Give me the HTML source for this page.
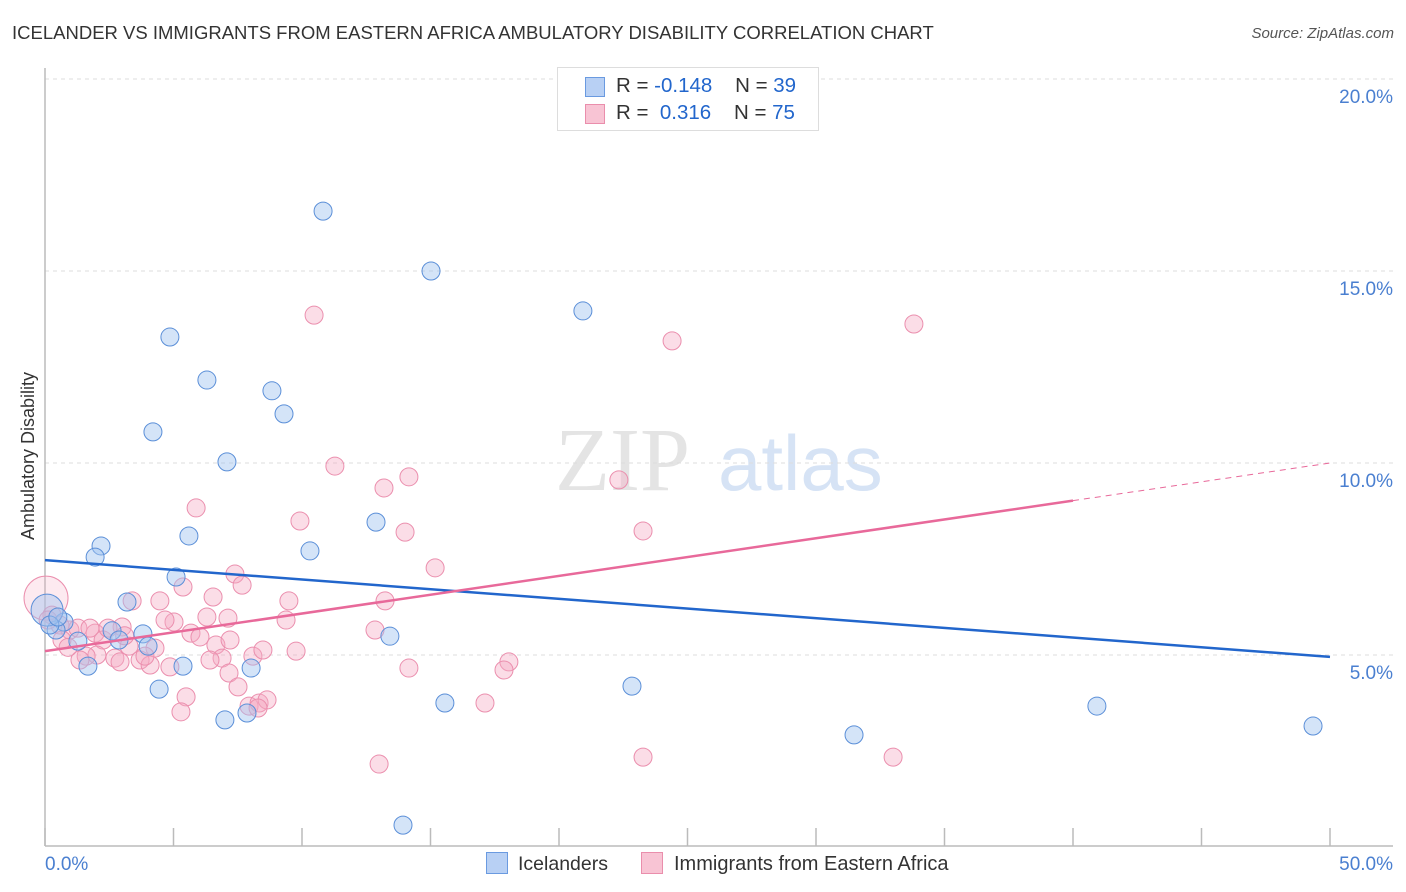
<!DOCTYPE html>
<html><head><meta charset="utf-8"><style>
body{margin:0;background:#fff;font-family:"Liberation Sans",sans-serif}
#wrap{position:relative;width:1406px;height:892px;overflow:hidden}
.t{position:absolute;white-space:nowrap}
</style></head><body>
<div id="wrap">
<div class="t" style="left:12px;top:22px;font-size:18.5px;color:#333">ICELANDER VS IMMIGRANTS FROM EASTERN AFRICA AMBULATORY DISABILITY CORRELATION CHART</div>
<div class="t" style="right:12px;top:25px;font-size:15px;color:#555;font-style:italic">Source: ZipAtlas.com</div>
<svg id="svg" width="1406" height="892" style="position:absolute;left:0;top:0"></svg>
</div>
<script>
const xTicks=[0,5,10,15,20,25,30,35,40,45,50];
const yTicks=[5,10,15,20];
const yTickLabels=["5.0%","10.0%","15.0%","20.0%"];
const blueX=[10.82,15.02,20.93,4.86,6.30,8.83,9.30,4.20,7.08,2.18,1.95,5.60,10.31,12.88,5.10,3.19,3.81,4.01,0.74,0.43,1.28,2.61,2.88,1.67,5.37,8.02,4.44,7.00,7.86,13.42,15.56,22.84,13.93,31.48,40.93,49.34,0.08,0.19,0.5];
const blueY=[16.56,15.00,13.96,13.28,12.16,11.88,11.28,10.81,10.03,7.84,7.55,8.10,7.71,8.46,7.03,6.38,5.55,5.23,5.86,5.65,5.36,5.63,5.39,4.71,4.71,4.66,4.11,3.31,3.49,5.49,3.75,4.19,0.57,2.92,3.67,3.15,6.17,5.78,5.99];
const pinkX=[0.04,10.47,24.40,33.81,11.28,14.16,13.19,22.33,5.88,9.92,14.01,23.27,15.18,7.39,7.67,5.37,6.54,9.49,13.23,4.47,3.39,0.27,0.58,0.97,1.28,1.95,2.26,3.00,5.02,6.30,7.12,9.38,12.84,5.68,6.03,6.65,4.28,3.27,2.02,1.60,2.72,3.70,4.86,6.89,8.09,9.77,4.09,14.16,18.05,17.86,7.16,7.51,5.49,5.29,7.94,8.33,8.64,8.29,17.12,13.00,23.27,33.00,0.66,1.36,2.92,3.89,6.42,7.20,0.12,2.45,4.67,1.75,8.48,0.9,3.1];
const pinkY=[6.48,13.85,13.18,13.62,9.92,9.64,9.35,9.56,8.83,8.49,8.20,8.23,7.27,7.11,6.82,6.77,6.51,6.41,6.41,6.41,6.41,6.04,5.78,5.65,5.70,5.57,5.39,5.73,5.86,5.99,5.96,5.91,5.65,5.57,5.47,5.26,5.18,5.23,5.00,4.97,4.92,4.87,4.69,4.92,4.97,5.10,4.74,4.66,4.82,4.61,4.53,4.17,3.91,3.52,3.67,3.75,3.83,3.62,3.75,2.16,2.34,2.34,5.39,4.87,4.82,4.97,4.87,5.39,5.91,5.70,5.91,5.70,5.13,5.2,5.5];
const blueTrend=[7.47,4.95];
const pinkTrend=[5.10,10.0];
const pinkSolidEnd=40;
const X=v=>45+v*25.7, Y=v=>847-v*38.4;
const svg=document.getElementById('svg');const NS='http://www.w3.org/2000/svg';
function mk(tag,at,parent){const e=document.createElementNS(NS,tag);for(const k in at)e.setAttribute(k,at[k]);(parent||svg).appendChild(e);return e;}
let w=mk('text',{x:555,y:490,'font-size':90,fill:'#e4e4e4','font-family':'Liberation Serif'});w.textContent='ZIP';


let w2=mk('text',{x:718,y:490,'font-size':78,fill:'#d6e3f5','font-family':'Liberation Sans'});w2.textContent='atlas';


yTicks.forEach((v,i)=>{let g=mk('line',{x1:45,x2:1393,y1:Y(v),y2:Y(v),stroke:'#ddd','stroke-dasharray':'4,4'});


let t=mk('text',{x:1393,y:Y(v)+24,'text-anchor':'end','font-size':19,fill:'#4a7fd0'});t.textContent=yTickLabels[i];

});
let ax=mk('line',{x1:45,x2:45,y1:68,y2:846,stroke:'#bbb','stroke-width':1.5});


let bx=mk('line',{x1:45,x2:1393,y1:846,y2:846,stroke:'#bbb','stroke-width':1.5});


xTicks.forEach(v=>{let l=mk('line',{x1:X(v),x2:X(v),y1:828,y2:846,stroke:'#bbb','stroke-width':1.5});

});
let xl0=mk('text',{x:45,y:870,'font-size':19,fill:'#4a7fd0'});xl0.textContent='0.0%';


let xl1=mk('text',{x:1393,y:870,'font-size':19,fill:'#4a7fd0','text-anchor':'end'});xl1.textContent='50.0%';


let yt=mk('text',{x:0,y:0,'font-size':18,fill:'#333','text-anchor':'middle',transform:'translate(34,456) rotate(-90)'});yt.textContent='Ambulatory Disability';


pinkX.forEach((x,i)=>{let c=mk('circle',{cx:X(x),cy:Y(pinkY[i]),r:i===0?22:9,fill:i===0?'rgba(246,170,196,0.25)':'rgba(246,170,196,0.4)',stroke:'#eb8fae','stroke-width':1});

});
blueX.forEach((x,i)=>{let c=mk('circle',{cx:X(x),cy:Y(blueY[i]),r:i===36?16:9,fill:'rgba(160,195,240,0.45)',stroke:'#5b8fd8','stroke-width':1});

});
let bl=mk('line',{x1:X(0),y1:Y(blueTrend[0]),x2:X(50),y2:Y(blueTrend[1]),stroke:'#2266cc','stroke-width':2.5});


const pm=pinkTrend[0]+(pinkTrend[1]-pinkTrend[0])*pinkSolidEnd/50;
let pl=mk('line',{x1:X(0),y1:Y(pinkTrend[0]),x2:X(pinkSolidEnd),y2:Y(pm),stroke:'#e8699a','stroke-width':2.5});


let pd=mk('line',{x1:X(pinkSolidEnd),y1:Y(pm),x2:X(50),y2:Y(pinkTrend[1]),stroke:'#e8699a','stroke-width':1,'stroke-dasharray':'6,5'});


</script>
<div class="t" style="left:557px;top:67px;width:260px;height:62px;border:1px solid #ddd;background:#fff;font-size:20.5px;color:#333">
<div style="position:absolute;left:27px;top:9px;width:18px;height:18px;background:#b8d0f4;border:1px solid #6a9ae0"></div>
<div style="position:absolute;left:58px;top:6px">R = <span style="color:#2266cc">-0.148</span>&nbsp;&nbsp;&nbsp; N = <span style="color:#2266cc">39</span></div>
<div style="position:absolute;left:27px;top:36px;width:18px;height:18px;background:#f8c4d4;border:1px solid #ea8eac"></div>
<div style="position:absolute;left:58px;top:33px">R = &nbsp;<span style="color:#2266cc">0.316</span>&nbsp;&nbsp;&nbsp; N = <span style="color:#2266cc">75</span></div>
</div>
<div class="t" style="left:486px;top:852px;font-size:19.5px;color:#333"><span style="display:inline-block;width:20px;height:20px;background:#b8d0f4;border:1px solid #6a9ae0;vertical-align:-4px;margin-right:10px"></span>Icelanders</div>
<div class="t" style="left:641px;top:852px;font-size:20px;color:#333"><span style="display:inline-block;width:20px;height:20px;background:#f8c4d4;border:1px solid #ea8eac;vertical-align:-4px;margin-right:11px"></span>Immigrants from Eastern Africa</div>
</body></html>
